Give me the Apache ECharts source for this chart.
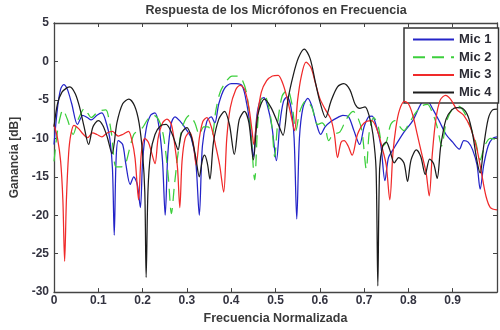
<!DOCTYPE html>
<html>
<head>
<meta charset="utf-8">
<script src="https://cdn.jsdelivr.net/npm/echarts@6/dist/echarts.min.js"></script>
<style>
  html, body { margin: 0; padding: 0; background: #fff; }
  #chart { width: 500px; height: 330px; }
</style>
</head>
<body>
<div id="chart"></div>
<script>
// values: [normalised frequency, gain dB]
const mic1 = [
  [0, -10.8], [0.008, -6], [0.015, -3.6], [0.022, -3.0], [0.03, -3.6], [0.04, -5.5], [0.053, -8.2],
  [0.065, -7.0], [0.075, -7.3], [0.084, -7.6], [0.097, -7.0], [0.108, -6.7], [0.118, -8], [0.126, -10],
  [0.132, -14], [0.136, -22.6], [0.14, -13], [0.145, -10.3], [0.155, -10.8], [0.162, -13.3], [0.172, -16],
  [0.18, -15], [0.188, -16], [0.195, -19], [0.2, -13], [0.208, -8.8], [0.218, -7], [0.228, -6.7],
  [0.237, -8.5], [0.245, -13], [0.251, -20], [0.257, -12], [0.265, -8], [0.273, -7.2], [0.285, -7.8],
  [0.298, -8.8], [0.31, -10], [0.32, -13], [0.328, -20], [0.335, -11], [0.345, -7.8], [0.355, -7.2],
  [0.363, -8], [0.372, -5.5], [0.385, -3.5], [0.4, -2.9], [0.412, -2.9], [0.425, -3.2], [0.435, -5.5],
  [0.443, -8.5], [0.45, -12.4], [0.458, -7], [0.466, -5], [0.474, -4.7], [0.482, -5.8], [0.492, -8.5],
  [0.502, -12.9], [0.51, -8], [0.518, -5.2], [0.526, -4.6], [0.535, -6], [0.542, -10], [0.548, -20.5],
  [0.554, -10], [0.562, -6], [0.573, -4.8], [0.582, -5.8], [0.592, -8], [0.602, -9.5], [0.612, -8.5],
  [0.625, -7.8], [0.64, -7.3], [0.652, -7.0], [0.665, -7.2], [0.677, -9], [0.69, -10.8], [0.7, -8.5],
  [0.71, -7.2], [0.718, -7.1], [0.728, -8.5], [0.738, -11], [0.747, -15.5], [0.755, -12.5], [0.765, -11.5],
  [0.79, -9.2], [0.81, -7.7], [0.83, -5.4], [0.843, -5.2], [0.855, -6.2], [0.87, -7.8], [0.885, -9.5],
  [0.9, -10.5], [0.915, -11.4], [0.925, -10.3], [0.935, -10.5], [0.945, -11.5], [0.955, -13.5],
  [0.962, -16.6], [0.97, -13.5], [0.98, -11], [0.99, -10], [1.0, -9.8]
]
const mic2 = [
  [0, -13], [0.008, -9], [0.015, -7], [0.02, -6.3], [0.03, -7.5], [0.043, -9.5], [0.055, -7.5],
  [0.069, -6.1], [0.077, -6.8], [0.084, -7.3], [0.1, -6.5], [0.117, -6.3], [0.124, -7.5], [0.13, -9.5],
  [0.14, -13.7], [0.15, -13.7], [0.16, -13.5], [0.17, -11.5], [0.18, -9.5], [0.19, -9], [0.2, -8.6],
  [0.212, -7.5], [0.225, -7], [0.238, -7.8], [0.248, -10], [0.258, -15], [0.265, -19.8], [0.272, -16],
  [0.28, -12], [0.29, -8.5], [0.306, -7], [0.318, -8], [0.328, -9.5], [0.338, -8.5], [0.348, -8.5],
  [0.357, -9.5], [0.365, -6.5], [0.375, -4], [0.39, -2.5], [0.402, -1.9], [0.415, -1.9], [0.425, -2.4],
  [0.435, -4.2], [0.443, -8], [0.453, -15.4], [0.46, -8], [0.467, -5], [0.475, -4.4], [0.485, -6],
  [0.492, -8.5], [0.498, -12.4], [0.505, -8], [0.515, -4.5], [0.527, -3.7], [0.537, -5.5], [0.546, -9],
  [0.555, -6.5], [0.569, -5.1], [0.582, -6], [0.595, -8.2], [0.605, -8], [0.612, -8.5], [0.62, -10.3],
  [0.63, -9.5], [0.645, -9.2], [0.66, -7.5], [0.675, -6.5], [0.685, -7.2], [0.695, -9], [0.705, -14],
  [0.712, -9], [0.722, -7.3], [0.732, -8.5], [0.742, -11], [0.75, -10.5], [0.76, -8.2], [0.769, -7.7],
  [0.778, -8.3], [0.79, -9], [0.8, -8.2], [0.815, -6.8], [0.83, -5.8], [0.843, -5.6], [0.855, -6.8],
  [0.865, -8.5], [0.875, -11], [0.885, -8], [0.898, -6.3], [0.913, -5.8], [0.925, -6.5], [0.94, -8.5],
  [0.952, -10.5], [0.962, -12.8], [0.972, -11], [0.985, -10], [1.0, -10.2]
]
const mic3 = [
  [0, -8.2], [0.008, -10], [0.015, -13], [0.02, -18], [0.024, -26], [0.028, -18], [0.033, -12],
  [0.038, -9.5], [0.045, -8.3], [0.055, -8.7], [0.065, -9.4], [0.076, -9.9], [0.087, -9.3], [0.097, -9.5],
  [0.108, -9.8], [0.12, -9.3], [0.132, -9.1], [0.145, -9.7], [0.155, -9.5], [0.168, -9.1], [0.176, -10.3],
  [0.183, -12.6], [0.191, -18], [0.197, -12], [0.205, -10], [0.213, -10.5], [0.22, -11.8], [0.228, -13.3],
  [0.235, -10], [0.245, -8], [0.255, -7.5], [0.265, -8.2], [0.274, -11.5], [0.279, -14], [0.284, -19],
  [0.289, -13], [0.296, -10], [0.306, -9.2], [0.314, -10.5], [0.321, -13.5], [0.328, -10], [0.336, -7.8],
  [0.345, -7.3], [0.355, -8.5], [0.365, -11], [0.374, -13.5], [0.383, -17], [0.39, -10], [0.398, -6],
  [0.41, -3.7], [0.42, -3.1], [0.43, -3.6], [0.44, -6], [0.447, -9], [0.451, -10.8], [0.458, -7.5],
  [0.468, -4], [0.48, -2.5], [0.493, -1.9], [0.506, -1.8], [0.516, -2.8], [0.525, -4.5], [0.535, -7],
  [0.543, -9], [0.55, -5], [0.558, -2], [0.569, -0.1], [0.58, -0.8], [0.59, -2.8], [0.6, -4.8],
  [0.612, -6.2], [0.625, -7.5], [0.633, -9.5], [0.64, -12.5], [0.648, -10.5], [0.655, -10.3], [0.664, -11],
  [0.673, -12.2], [0.685, -9.5], [0.7, -8], [0.717, -7.7], [0.73, -9], [0.742, -11.5], [0.75, -13.5],
  [0.758, -18], [0.765, -12], [0.772, -8.5], [0.78, -6.3], [0.791, -5.2], [0.8, -5.5], [0.81, -7],
  [0.82, -9.5], [0.83, -12], [0.84, -14.5], [0.847, -17.5], [0.854, -12], [0.862, -7.5], [0.872, -5],
  [0.884, -4.4], [0.895, -4.9], [0.91, -6.3], [0.925, -7], [0.94, -8.6], [0.955, -11.5], [0.965, -14.5],
  [0.975, -17.5], [0.985, -19], [1.0, -19.3]
]
const mic4 = [
  [0, -8.5], [0.008, -5.5], [0.018, -4], [0.03, -3.4], [0.036, -3.3], [0.048, -4.2], [0.058, -6],
  [0.068, -8.5], [0.078, -10.8], [0.088, -8.5], [0.1, -7.7], [0.11, -8.3], [0.12, -9.8], [0.131, -12],
  [0.142, -8], [0.155, -5.5], [0.169, -4.9], [0.182, -5.8], [0.192, -8], [0.2, -12], [0.205, -17],
  [0.208, -28.1], [0.212, -17], [0.218, -12], [0.228, -9.5], [0.24, -8.4], [0.253, -8.2], [0.265, -9.2],
  [0.274, -10.6], [0.28, -11.5], [0.288, -9.3], [0.3, -8.6], [0.31, -9.8], [0.32, -12.5], [0.328, -15],
  [0.335, -12.8], [0.34, -12.2], [0.346, -13.2], [0.352, -15.3], [0.36, -10.5], [0.372, -7.5], [0.385, -6.5],
  [0.396, -8.2], [0.407, -12.1], [0.418, -7.6], [0.43, -6.5], [0.44, -8], [0.45, -12.8], [0.46, -7],
  [0.475, -4.9], [0.49, -6], [0.505, -8], [0.517, -9.6], [0.528, -5], [0.54, -1.8], [0.552, 0.5],
  [0.565, 1.6], [0.578, 0.4], [0.59, -2.7], [0.6, -5.2], [0.613, -7.3], [0.625, -5.2], [0.64, -3.3],
  [0.654, -2.9], [0.668, -3.7], [0.68, -5.6], [0.69, -6.1], [0.702, -5.9], [0.712, -7.2], [0.72, -9.5],
  [0.727, -14], [0.731, -29.2], [0.735, -14], [0.742, -11], [0.75, -10.5], [0.758, -11.5], [0.768, -13.2],
  [0.778, -12.5], [0.79, -13.2], [0.798, -15.6], [0.806, -12.8], [0.818, -11.5], [0.828, -12.4],
  [0.838, -14.7], [0.848, -12.7], [0.857, -13.3], [0.865, -15.2], [0.873, -11], [0.885, -7.5],
  [0.898, -6.3], [0.91, -6.0], [0.922, -6.1], [0.935, -7.2], [0.945, -9.5], [0.955, -13], [0.962, -14.5],
  [0.97, -11], [0.98, -7.5], [0.99, -6.3], [1.0, -6.2]
]

const seriesNames = ['Mic 1', 'Mic 2', 'Mic 3', 'Mic 4']
const seriesData = [mic1, mic2, mic3, mic4]
const colors = ['#2424c8', '#3ccf3c', '#f02a2a', '#1c1c1c']
const lineTypes = ['solid', [12, 7], 'solid', 'solid']

const font = 'Liberation Sans, Arial, sans-serif'
const chart = echarts.init(document.getElementById('chart'), null, { renderer: 'canvas' })

const baseX = {
  type: 'value',
  min: 0,
  max: 1,
  interval: 0.1,
  splitLine: { show: false },
  axisLine: { show: true, onZero: false, lineStyle: { color: '#444', width: 1.3 } },
  axisTick: { show: true, inside: true, length: 4, lineStyle: { color: '#444' } },
}
const baseY = {
  type: 'value',
  min: -30,
  max: 5,
  interval: 5,
  splitLine: { show: false },
  axisLine: { show: true, onZero: false, lineStyle: { color: '#444', width: 1.3 } },
  axisTick: { show: true, inside: true, length: 4, lineStyle: { color: '#444' } },
}

const option = {
  animation: false,
  backgroundColor: '#fff',
  color: colors,
  title: {
    text: 'Respuesta de los Micrófonos en Frecuencia',
    left: 276,
    top: 4,
    padding: 0,
    textAlign: 'center',
    textStyle: { fontFamily: font, fontSize: 12.5, fontWeight: 'bold', color: '#3a3a3a' },
  },
  legend: {
    data: seriesNames,
    orient: 'vertical',
    left: 404,
    top: 28,
    padding: [5, 7, 4, 8],
    itemWidth: 41,
    itemHeight: 10,
    itemGap: 4.7,
    backgroundColor: '#fff',
    borderColor: '#333',
    borderWidth: 1.5,
    borderRadius: 0,
    // hide the marker ECharts adds on line icons, keep only the line
    itemStyle: { color: 'rgba(0,0,0,0)', borderColor: 'rgba(0,0,0,0)', borderWidth: 0 },
    textStyle: { fontFamily: font, fontSize: 13, fontWeight: 'bold', color: '#2a2a33' },
  },
  grid: { left: 54, top: 23, width: 449, height: 275, containLabel: false },
  xAxis: [
    {
      ...baseX,
      position: 'bottom',
      name: 'Frecuencia Normalizada',
      nameLocation: 'middle',
      nameGap: 17,
      nameTextStyle: { fontFamily: font, fontSize: 12.5, fontWeight: 'bold', color: '#3a3a3a' },
      axisLabel: {
        margin: 3,
        fontFamily: font,
        fontSize: 12,
        fontWeight: 'bold',
        color: '#333340',
        formatter: (v) => (v >= 1 ? '' : String(+v.toFixed(1))),
      },
    },
    { ...baseX, position: 'top', axisLabel: { show: false } },
  ],
  yAxis: [
    {
      ...baseY,
      position: 'left',
      name: 'Ganancia [dB]',
      nameLocation: 'middle',
      nameGap: 32,
      nameTextStyle: { fontFamily: font, fontSize: 12, fontWeight: 'bold', color: '#3a3a3a' },
      axisLabel: { margin: 5, fontFamily: font, fontSize: 12, fontWeight: 'bold', color: '#333340' },
    },
    { ...baseY, position: 'right', axisLabel: { show: false } },
  ],
  series: seriesNames.map((name, i) => ({
    name,
    type: 'line',
    data: seriesData[i],
    xAxisIndex: 0,
    yAxisIndex: 0,
    symbol: 'none',
    smooth: 0.3,
    lineStyle: { color: colors[i], width: 1.25, type: lineTypes[i] },
    itemStyle: { color: colors[i] },
    z: 2 + i,
  })),
}

chart.setOption(option)
</script>
</body>
</html>
